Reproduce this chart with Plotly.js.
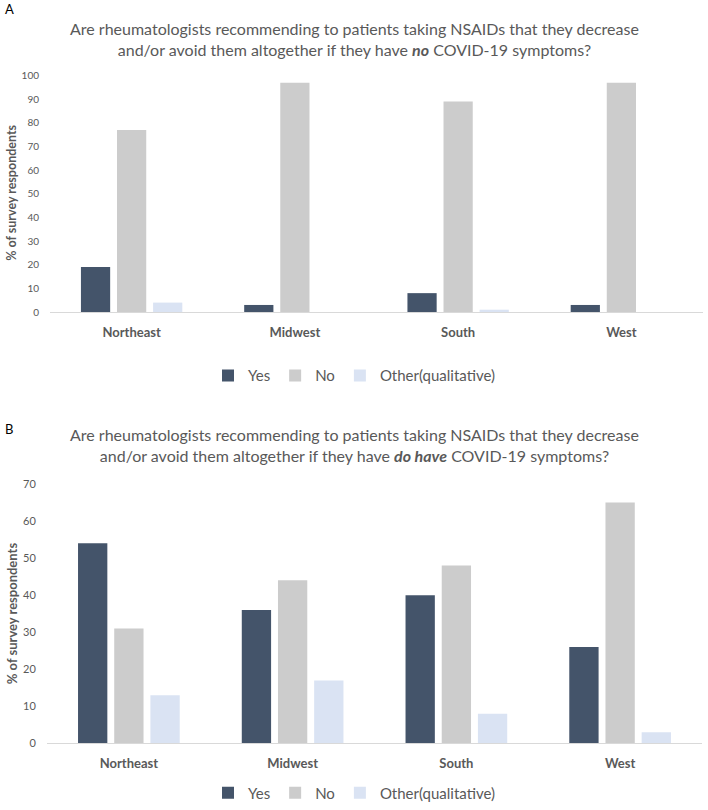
<!DOCTYPE html>
<html>
<head>
<meta charset="utf-8">
<script src="https://cdn.plot.ly/plotly-3.0.1.min.js"></script>
<style>html,body{margin:0;padding:0;background:#fff;}#chart{width:708px;height:810px;}</style>
</head>
<body>
<div id="chart"></div>
<script>
const regions = ['Northeast', 'Midwest', 'South', 'West'];
const seriesNames = ['Yes', 'No', 'Other(qualitative)'];
// Panel A: no COVID-19 symptoms
const noSymYes = [19, 3, 8, 3];
const noSymNo = [77, 97, 89, 97];
const noSymOther = [4, 0, 1, 0];
// Panel B: do have COVID-19 symptoms
const symYes = [54, 36, 40, 26];
const symNo = [31, 44, 48, 65];
const symOther = [13, 17, 8, 3];
const yTicksA = [0, 10, 20, 30, 40, 50, 60, 70, 80, 90, 100];
const yTicksB = [0, 10, 20, 30, 40, 50, 60, 70];

const colors = ['#44546A', '#CCCCCC', '#DAE3F3'];
const W = 708, H = 810;
const gray = '#595959';
const font = 'Lato, "Open Sans", sans-serif';

function px2y(p) { return 1 - p / H; }
function px2x(p) { return p / W; }

const traces = [];
[noSymYes, noSymNo, noSymOther].forEach((vals, i) => {
  traces.push({type: 'bar', x: regions, y: vals, name: seriesNames[i], marker: {color: colors[i]},
    xaxis: 'x', yaxis: 'y', legend: 'legend', hoverinfo: 'skip'});
});
[symYes, symNo, symOther].forEach((vals, i) => {
  traces.push({type: 'bar', x: regions, y: vals, name: seriesNames[i], marker: {color: colors[i]},
    xaxis: 'x2', yaxis: 'y2', legend: 'legend2', hoverinfo: 'skip'});
});

const xCommon = {
  type: 'category', range: [-0.5, 3.5], showgrid: false, zeroline: false,
  showline: true, linecolor: '#D9D9D9', linewidth: 1,
  ticks: 'outside', ticklen: 8, tickcolor: 'rgba(0,0,0,0)',
  tickfont: {family: font, size: 13, color: gray, weight: 'bold'}, fixedrange: true
};
const yCommon = {
  showgrid: false, zeroline: false, showline: false,
  ticks: 'outside', ticklen: 8, tickcolor: 'rgba(0,0,0,0)',
  tickfont: {family: font, size: 10, color: gray}, fixedrange: true
};

const titleA = 'Are rheumatologists recommending to patients taking NSAIDs that they decrease<br>and/or avoid them altogether if they have <b><i>no</i></b> COVID-19 symptoms?';
const titleB = 'Are rheumatologists recommending to patients taking NSAIDs that they decrease<br>and/or avoid them altogether if they have <b><i>do have</i></b> COVID-19 symptoms?';

const layout = {
  width: W, height: H,
  margin: {l: 0, r: 0, t: 0, b: 0},
  paper_bgcolor: '#fff', plot_bgcolor: '#fff',
  barmode: 'group', bargap: 0.337, bargroupgap: 0.19,
  font: {family: font, color: gray},
  xaxis: Object.assign({}, xCommon, {domain: [px2x(50), px2x(703)], anchor: 'y'}),
  yaxis: Object.assign({}, yCommon, {domain: [px2y(314), px2y(76)], range: [0, 100], tickvals: yTicksA, anchor: 'x'}),
  xaxis2: Object.assign({}, xCommon, {domain: [px2x(47), px2x(702)], anchor: 'y2'}),
  yaxis2: Object.assign({}, yCommon, {domain: [px2y(748), px2y(487)], range: [0, 70], tickvals: yTicksB, anchor: 'x2',
    tickfont: {family: font, size: 11, color: gray}}),
  legend: {orientation: 'h', x: 0.5, xanchor: 'center', y: px2y(378), yanchor: 'middle',
    font: {family: font, size: 15, color: gray}, traceorder: 'normal', itemwidth: 30},
  legend2: {orientation: 'h', x: 0.5, xanchor: 'center', y: px2y(798), yanchor: 'middle',
    font: {family: font, size: 15, color: gray}, traceorder: 'normal', itemwidth: 30},
  annotations: [
    {text: 'A', xref: 'paper', yref: 'paper', x: px2x(3), y: px2y(9), xanchor: 'left', yanchor: 'middle',
      showarrow: false, font: {family: font, size: 13, color: '#000'}},
    {text: 'B', xref: 'paper', yref: 'paper', x: px2x(3), y: px2y(432), xanchor: 'left', yanchor: 'middle',
      showarrow: false, font: {family: font, size: 13, color: '#000'}},
    {text: titleA, xref: 'paper', yref: 'paper', x: px2x(355), y: px2y(39), xanchor: 'center', yanchor: 'middle',
      showarrow: false, align: 'center', font: {family: font, size: 16, color: gray}},
    {text: titleB, xref: 'paper', yref: 'paper', x: px2x(355), y: px2y(448), xanchor: 'center', yanchor: 'middle',
      showarrow: false, align: 'center', font: {family: font, size: 16, color: gray}},
    {text: '<b>% of survey respondents</b>', xref: 'paper', yref: 'paper', x: px2x(12), y: px2y(194),
      xanchor: 'center', yanchor: 'middle', textangle: -90, showarrow: false, font: {family: font, size: 12.5, color: gray}},
    {text: '<b>% of survey respondents</b>', xref: 'paper', yref: 'paper', x: px2x(12), y: px2y(617),
      xanchor: 'center', yanchor: 'middle', textangle: -90, showarrow: false, font: {family: font, size: 13, color: gray}}
  ]
};

Plotly.newPlot('chart', traces, layout, {displayModeBar: false, staticPlot: true});
</script>
</body>
</html>
